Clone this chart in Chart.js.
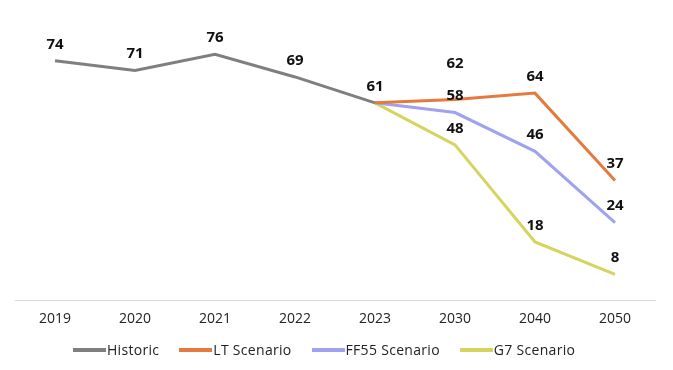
<!DOCTYPE html>
<html>
<head>
<meta charset="utf-8">
<script src="https://cdn.jsdelivr.net/npm/chart.js@4"></script>
<style>
  html, body { margin: 0; padding: 0; background: #fff; }
  #wrap { position: relative; width: 673px; height: 370px; }
  #legend { position: absolute; left: 73px; top: 340px; display: flex; align-items: center;
    font: 14px "Open Sans", "DejaVu Sans", sans-serif; letter-spacing: 0.3px; color: #222; white-space: nowrap; }
  #legend .item { display: flex; align-items: center; margin-right: 20px; }
  #legend .swatch { width: 33px; height: 4px; margin-right: 1px; }
</style>
</head>
<body>
<div id="wrap"><canvas id="chart"></canvas><div id="legend"></div></div>
<script>
const years = ['2019', '2020', '2021', '2022', '2023', '2030', '2040', '2050']
const historic = [74, 71, 76, 69, 61, null, null, null]
const ltScenario = [null, null, null, null, 61, 62, 64, 37]
const ff55Scenario = [null, null, null, null, 61, 58, 46, 24]
const g7Scenario = [null, null, null, null, 61, 48, 18, 8]

const labelFont = '700 15px "Open Sans", "DejaVu Sans", sans-serif'

// draws the value above each point, skipping the shared 2023 start of the scenarios
const valueLabels = {
  id: 'valueLabels',
  afterDatasetsDraw (chart) {
    const ctx = chart.ctx
    ctx.save()
    ctx.font = labelFont
    ctx.fillStyle = '#111'
    ctx.textAlign = 'center'
    ctx.textBaseline = 'bottom'
    chart.data.datasets.forEach((ds, i) => {
      const meta = chart.getDatasetMeta(i)
      meta.data.forEach((pt, j) => {
        const v = ds.data[j]
        if (v == null) return
        if (i > 0 && j === 4) return
        let lift = 9
        if (i === 1 && j === 5) lift = 28
        ctx.fillText(String(v), pt.x, pt.y - lift)
      })
    })
    ctx.restore()
  }
}

const line = (label, data, color) => ({
  label,
  data,
  borderColor: color,
  backgroundColor: color,
  borderWidth: 3,
  pointRadius: 0,
  pointHoverRadius: 0,
  tension: 0,
  spanGaps: false
})

const chart = new Chart(document.getElementById('chart'), {
  type: 'line',
  data: {
    labels: years,
    datasets: [
      line('Historic', historic, '#7f7f7f'),
      line('LT Scenario', ltScenario, '#e57a3f'),
      line('FF55 Scenario', ff55Scenario, '#a0a2ef'),
      line('G7 Scenario', g7Scenario, '#d5d45e')
    ]
  },
  options: {
    responsive: true,
    maintainAspectRatio: false,
    animation: false,
    layout: { padding: { top: 9, left: 15, right: 18, bottom: 33 } },
    plugins: {
      tooltip: { enabled: false },
      legend: { display: false }
    },
    scales: {
      x: {
        offset: true,
        grid: { display: false, drawTicks: false },
        border: { display: true, color: '#d9d9d9', width: 1 },
        ticks: {
          color: '#222',
          padding: 10,
          font: { family: '"Open Sans", "DejaVu Sans", sans-serif', size: 14 }
        }
      },
      y: {
        display: false,
        min: 0,
        max: 90
      }
    }
  },
  plugins: [valueLabels]
})

const legend = document.getElementById('legend')
chart.data.datasets.forEach(ds => {
  const item = document.createElement('span')
  item.className = 'item'
  const sw = document.createElement('span')
  sw.className = 'swatch'
  sw.style.background = ds.borderColor
  const txt = document.createElement('span')
  txt.textContent = ds.label
  item.appendChild(sw)
  item.appendChild(txt)
  legend.appendChild(item)
})
</script>
</body>
</html>
